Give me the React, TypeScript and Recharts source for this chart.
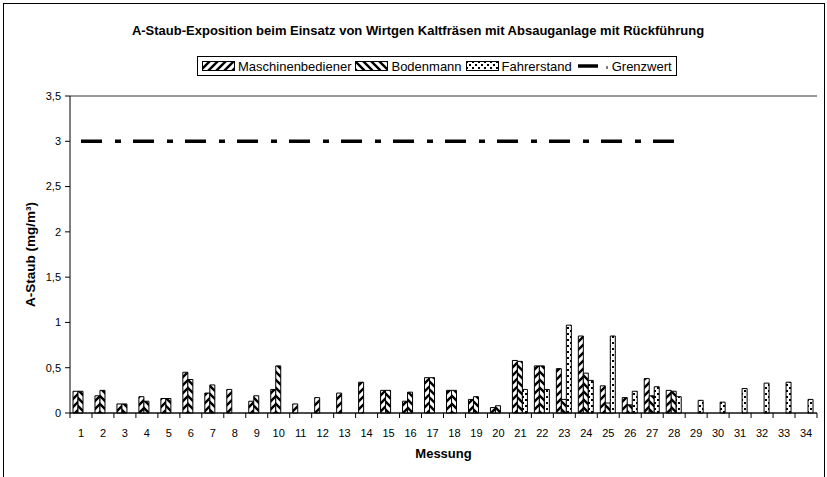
import React from 'react';
import { ComposedChart, Bar, Line, XAxis, YAxis, CartesianGrid, Legend } from 'recharts';

const FONT = '"Liberation Sans", Arial, Helvetica, sans-serif';

const chartTitle = 'A-Staub-Exposition beim Einsatz von Wirtgen Kaltfräsen mit Absauganlage mit Rückführung';
const xTitle = 'Messung';
const yTitle = 'A-Staub (mg/m³)';

const messungen = [
  '1', '2', '3', '4', '5', '6', '7', '8', '9', '10', '11', '12', '13', '14', '15', '16', '17',
  '18', '19', '20', '21', '22', '23', '24', '25', '26', '27', '28', '29', '30', '31', '32', '33', '34',
];

const maschinenbediener = [
  0.24, 0.19, 0.10, 0.18, 0.16, 0.45, 0.22, 0.26, 0.13, 0.26, 0.10, 0.17, 0.22, 0.34, 0.25, 0.13, 0.39,
  0.25, 0.15, 0.06, 0.58, 0.52, 0.49, 0.85, 0.30, 0.17, 0.38, 0.25, null, null, null, null, null, null,
];

const bodenmann = [
  0.24, 0.25, 0.10, 0.13, 0.16, 0.37, 0.31, null, 0.19, 0.52, null, null, null, null, 0.25, 0.23, 0.39,
  0.25, 0.18, 0.08, 0.57, 0.52, 0.15, 0.44, 0.11, 0.09, 0.19, 0.24, null, null, null, null, null, null,
];

const fahrerstand = [
  null, null, null, null, null, null, null, null, null, null, null, null, null, null, null, null, null,
  null, null, null, 0.26, 0.26, 0.97, 0.36, 0.85, 0.24, 0.29, 0.18, 0.14, 0.12, 0.27, 0.33, 0.34, 0.15,
];

const grenzwert = [
  3, 3, 3, 3, 3, 3, 3, 3, 3, 3, 3, 3, 3, 3, 3, 3, 3,
  3, 3, 3, 3, 3, 3, 3, 3, 3, 3, 3, null, null, null, null, null, null,
];

const yTicks = [0, 0.5, 1, 1.5, 2, 2.5, 3, 3.5];

const seriesNames = {
  m: 'Maschinenbediener',
  b: 'Bodenmann',
  f: 'Fahrerstand',
  g: 'Grenzwert',
};

const data = messungen.map((name, i) => ({
  name,
  m: maschinenbediener[i],
  b: bodenmann[i],
  f: fahrerstand[i],
  g: grenzwert[i],
}));

const Patterns = ({ suffix }: { suffix: string }) => (
  <defs>
    <pattern id={`pM${suffix}`} patternUnits="userSpaceOnUse" width="8" height="8">
      <rect width="8" height="8" fill="#fff" />
      <path d="M-2,2 L2,-2 M0,8 L8,0 M6,10 L10,6" stroke="#000" strokeWidth="2.4" />
    </pattern>
    <pattern id={`pB${suffix}`} patternUnits="userSpaceOnUse" width="8" height="8">
      <rect width="8" height="8" fill="#fff" />
      <path d="M-2,6 L2,10 M0,0 L8,8 M6,-2 L10,2" stroke="#000" strokeWidth="2.4" />
    </pattern>
    <pattern id={`pF${suffix}`} patternUnits="userSpaceOnUse" width="6" height="6">
      <rect width="6" height="6" fill="#fff" />
      <rect x="0" y="0" width="2" height="2" fill="#000" />
      <rect x="3" y="3" width="2" height="2" fill="#000" />
    </pattern>
  </defs>
);

const Swatch = ({ id }: { id: string }) => (
  <svg width={33} height={10} style={{ display: 'block' }}>
    <rect x={0.5} y={0.5} width={32} height={9} fill={`url(#${id})`} stroke="#000" strokeWidth={1} />
  </svg>
);

const LegendBox = () => (
  <div
    style={{
      display: 'flex',
      alignItems: 'center',
      border: '1px solid #000',
      background: '#fff',
      height: 20,
      padding: '0 4px',
      boxSizing: 'border-box',
      fontFamily: FONT,
      fontSize: 13,
      color: '#000',
      whiteSpace: 'nowrap',
    }}
  >
    <svg width={0} height={0} style={{ position: 'absolute' }}>
      <Patterns suffix="L" />
    </svg>
    <Swatch id="pML" />
    <span style={{ marginLeft: 3, marginRight: 4 }}>{seriesNames.m}</span>
    <Swatch id="pBL" />
    <span style={{ marginLeft: 3, marginRight: 4 }}>{seriesNames.b}</span>
    <Swatch id="pFL" />
    <span style={{ marginLeft: 3, marginRight: 4 }}>{seriesNames.f}</span>
    <svg width={34} height={10} style={{ display: 'block' }}>
      <line x1={2} x2={22} y1={5} y2={5} stroke="#000" strokeWidth={3.5} />
      <line x1={31} x2={31} y1={5} y2={8} stroke="#000" strokeWidth={1} />
    </svg>
    <span style={{ marginLeft: 2 }}>{seriesNames.g}</span>
  </div>
);

const XTick = (props: any) => {
  const { x, y, payload, index, visibleTicksCount } = props;
  const half = typeof payload?.offset === 'number' && payload.offset > 0 ? payload.offset : 747 / 34 / 2;
  const axisY = y - 5;
  return (
    <g>
      <line x1={x - half} x2={x - half} y1={axisY} y2={axisY + 5} stroke="#000" strokeWidth={1} />
      {index === visibleTicksCount - 1 && (
        <line x1={x + half} x2={x + half} y1={axisY} y2={axisY + 5} stroke="#000" strokeWidth={1} />
      )}
      <text x={x} y={axisY + 24} textAnchor="middle" fontSize={11} fontFamily={FONT} fill="#000">
        {payload.value}
      </text>
    </g>
  );
};

const YTitle = (props: any) => {
  const vb = props.viewBox || { x: 30, y: 96, width: 40, height: 317 };
  const cx = vb.x + 5;
  const cy = vb.y + vb.height / 2;
  return (
    <text
      x={cx}
      y={cy}
      transform={`rotate(-90, ${cx}, ${cy})`}
      textAnchor="middle"
      fontWeight="bold"
      fontSize={13.5}
      fontFamily={FONT}
      fill="#000"
    >
      {yTitle}
    </text>
  );
};

const XTitle = (props: any) => {
  const vb = props.viewBox || { x: 70, y: 413, width: 747, height: 30 };
  const cx = vb.x + vb.width / 2;
  const cy = vb.y + vb.height + 15;
  return (
    <text x={cx} y={cy} textAnchor="middle" fontWeight="bold" fontSize={13} fontFamily={FONT} fill="#000">
      {xTitle}
    </text>
  );
};

export default function App() {
  return (
    <div
      style={{
        position: 'absolute',
        left: 0,
        top: 0,
        width: 827,
        height: 477,
        overflow: 'hidden',
        background: '#fff',
        fontFamily: FONT,
      }}
    >
      <div
        style={{
          position: 'absolute',
          left: 3,
          top: 3,
          width: 820,
          height: 500,
          border: '1px solid #000',
        }}
      />
      <div
        style={{
          position: 'absolute',
          left: 18,
          top: 23,
          width: 800,
          textAlign: 'center',
          fontWeight: 'bold',
          fontSize: 13,
          lineHeight: '16px',
          color: '#000',
          whiteSpace: 'nowrap',
        }}
      >
        {chartTitle}
      </div>
      <div style={{ position: 'absolute', left: 0, top: 0 }}>
        <ComposedChart
          width={827}
          height={477}
          data={data}
          margin={{ top: 96, right: 10, bottom: 34, left: 30 }}
          barGap={0}
          barCategoryGap={3}
        >
          <Patterns suffix="" />
          <CartesianGrid vertical={false} stroke="#333" strokeWidth={1} />
          <XAxis
            dataKey="name"
            interval={0}
            height={30}
            tickSize={5}
            tickMargin={0}
            tickLine={false}
            axisLine={{ stroke: '#000', strokeWidth: 1 }}
            tick={<XTick />}
            label={XTitle}
          />
          <YAxis
            yAxisId="left"
            domain={[0, 3.5]}
            ticks={yTicks}
            interval={0}
            width={40}
            tickSize={5}
            tickMargin={4}
            axisLine={{ stroke: '#000', strokeWidth: 1 }}
            tickLine={{ stroke: '#000', strokeWidth: 1 }}
            tick={{ fontSize: 11, fill: '#000', fontFamily: FONT }}
            tickFormatter={(v: number) => String(v).replace('.', ',')}
            label={YTitle}
          />
          <YAxis
            yAxisId="right"
            orientation="right"
            domain={[0, 3.5]}
            width={0}
            tick={false}
            tickLine={false}
            axisLine={{ stroke: '#808080', strokeWidth: 1 }}
          />
          <Legend
            layout="horizontal"
            verticalAlign="middle"
            align="center"
            content={() => <LegendBox />}
            wrapperStyle={{ top: 56, left: 197, width: 'auto', height: 'auto' }}
          />
          <Bar
            yAxisId="left"
            dataKey="m"
            name={seriesNames.m}
            fill="url(#pM)"
            stroke="#000"
            strokeWidth={1}
            barSize={5}
            isAnimationActive={false}
          />
          <Bar
            yAxisId="left"
            dataKey="b"
            name={seriesNames.b}
            fill="url(#pB)"
            stroke="#000"
            strokeWidth={1}
            barSize={5}
            isAnimationActive={false}
          />
          <Bar
            yAxisId="left"
            dataKey="f"
            name={seriesNames.f}
            fill="url(#pF)"
            stroke="#000"
            strokeWidth={1}
            barSize={5}
            isAnimationActive={false}
          />
          <Line
            yAxisId="left"
            dataKey="g"
            name={seriesNames.g}
            stroke="#000"
            strokeWidth={3.5}
            strokeDasharray="21 13 6 12"
            dot={false}
            activeDot={false}
            connectNulls={false}
            isAnimationActive={false}
          />
        </ComposedChart>
      </div>
    </div>
  );
}
